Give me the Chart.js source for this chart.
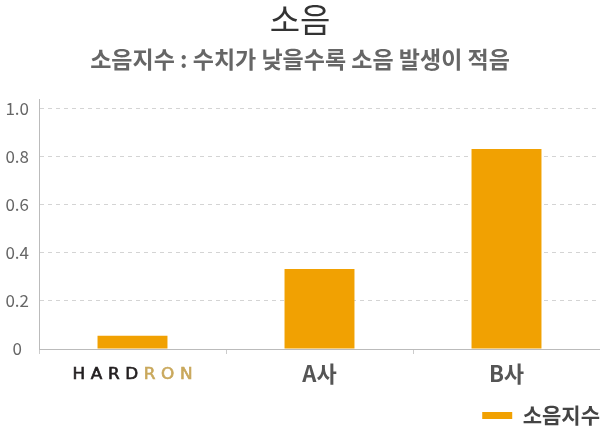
<!DOCTYPE html>
<html>
<head>
<meta charset="utf-8">
<script src="https://cdn.jsdelivr.net/npm/chart.js@4"></script>
<style>
html,body{margin:0;padding:0;background:#fff;}
#wrap{width:600px;height:430px;position:relative;}
</style>
</head>
<body>
<div id="wrap"><canvas id="c" width="600" height="430"></canvas></div>
<script>
const categories = ["HARDRON", "A사", "B사"];
const seriesName = "소음지수";
const noiseValues = [0.055, 0.333, 0.833];
const yTickValues = [0, 0.2, 0.4, 0.6, 0.8, 1.0];
const yTickLabels = ["0", "0.2", "0.4", "0.6", "0.8", "1.0"];
const titleText = "소음";
const subtitleText = "소음지수 : 수치가 낮을수록 소음 발생이 적음";

const FONT = "'Noto Sans CJK KR', 'Noto Sans', sans-serif";

const logoPlugin = {
  id: 'logo',
  afterDraw(chart) {
    const xs = chart.scales.x;
    const ctx = chart.ctx;
    const cx = xs.getPixelForValue(0);
    const y = 375;
    const name = categories[0];
    const part1 = name.slice(0, 4), part2 = name.slice(4);
    ctx.save();
    ctx.font = "15px 'DejaVu Sans', sans-serif";
    ctx.letterSpacing = "5px";
    ctx.textBaseline = 'middle';
    ctx.textAlign = 'left';
    ctx.lineWidth = 0.6;
    const w1 = ctx.measureText(part1).width;
    const w2 = ctx.measureText(part2).width;
    const total = w1 + w2 - 5;
    const targetW = 120;
    const sx = targetW / total;
    ctx.translate(cx - targetW / 2, y);
    ctx.scale(sx, 1);
    ctx.fillStyle = '#231f20';
    ctx.strokeStyle = '#231f20';
    ctx.fillText(part1, 0, 0);
    ctx.strokeText(part1, 0, 0);
    ctx.fillStyle = '#c9a85c';
    ctx.strokeStyle = '#c9a85c';
    ctx.fillText(part2, w1, 0);
    ctx.strokeText(part2, w1, 0);
    ctx.restore();
  }
};

new Chart(document.getElementById('c'), {
  type: 'bar',
  data: {
    labels: categories,
    datasets: [{
      label: seriesName,
      data: noiseValues,
      backgroundColor: '#f1a102',
      borderWidth: 0,
      barPercentage: 0.374,
      categoryPercentage: 1.0
    }]
  },
  options: {
    responsive: false,
    animation: false,
    devicePixelRatio: 1,
    layout: { padding: { left: 0, right: 0, top: 0, bottom: 0 } },
    plugins: {
      title: {
        display: true,
        text: titleText,
        color: '#333',
        font: { family: FONT, size: 33, weight: 'normal' },
        padding: { top: 0, bottom: 3 }
      },
      subtitle: {
        display: true,
        text: subtitleText,
        color: '#666',
        font: { family: FONT, size: 23, weight: 'bold' },
        padding: { top: 3, bottom: 26 }
      },
      legend: {
        display: true,
        position: 'bottom',
        align: 'end',
        maxHeight: 25,
        labels: {
          boxWidth: 30,
          boxHeight: 7,
          color: '#444',
          font: { family: FONT, size: 21, weight: 'bold' },
          padding: 0
        }
      },
      tooltip: { enabled: false }
    },
    scales: {
      x: {
        afterFit(scale) { scale.height = 56; },
        grid: {
          display: true,
          drawOnChartArea: false,
          drawTicks: true,
          tickLength: 5,
          color: '#ccc',
          offset: true
        },
        border: { display: true, color: '#bbb' },
        ticks: {
          color: (c) => c.index === 0 ? 'rgba(0,0,0,0)' : '#555',
          font: { family: FONT, size: 22, weight: 'bold' },
          padding: 6
        }
      },
      y: {
        min: 0,
        max: 1.04,
        afterBuildTicks(scale) {
          scale.ticks = yTickValues.map(v => ({ value: v }));
        },
        afterFit(scale) { scale.width = 39; },
        grid: {
          display: true,
          drawTicks: false,
          color: (c) => c.tick && c.tick.value === 0 ? 'rgba(0,0,0,0)' : '#d4d4d4',
          lineWidth: 1
        },
        border: { display: true, color: '#bbb', dash: [4, 4] },
        ticks: {
          color: '#666',
          font: { family: FONT, size: 17 },
          padding: 10,
          crossAlign: 'center',
          callback: (v, i) => yTickLabels[yTickValues.indexOf(v)] ?? ''
        }
      }
    }
  },
  plugins: [logoPlugin]
});
</script>
</body>
</html>
